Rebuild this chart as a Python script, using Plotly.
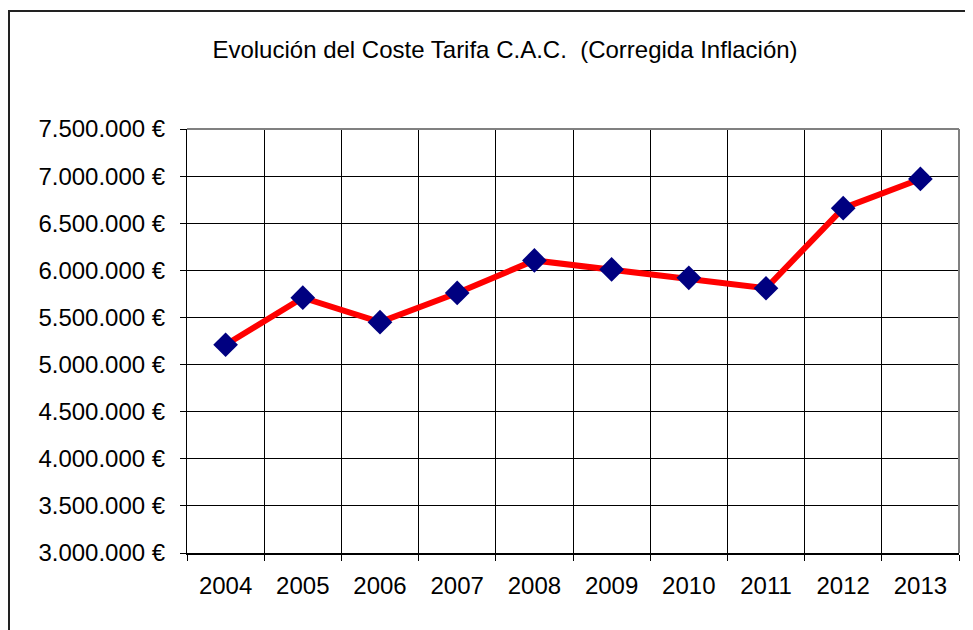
import plotly.graph_objects as go

# data
years = ["2004", "2005", "2006", "2007", "2008", "2009", "2010", "2011", "2012", "2013"]
coste = [5210000, 5710000, 5450000, 5760000, 6105000, 6010000, 5920000, 5810000, 6660000, 6970000]
y_ticks = [3000000 + 500000 * i for i in range(10)]
y_labels = ["{:,.0f} €".format(v).replace(",", ".") for v in y_ticks]

# page body has an 8px margin, so the figure is a bit smaller than the window
W, H = 965, 622
L, T = 179, 121
pw, ph = 772, 424
R, B = W - L - pw, H - T - ph

font = "Liberation Sans, Arial, sans-serif"

fig = go.Figure()
fig.add_trace(go.Scatter(
    x=years, y=coste, mode="lines+markers",
    line=dict(color="#FF0000", width=6),
    marker=dict(symbol="diamond", size=19, color="#000080", line=dict(width=0)),
    showlegend=False, hoverinfo="x+y",
))

fig.update_layout(
    width=W, height=H,
    margin=dict(l=L, r=R, t=T, b=B, pad=0, autoexpand=False),
    paper_bgcolor="white", plot_bgcolor="white",
    font=dict(family=font, size=24, color="black"),
    title=dict(text="Evolución del Coste Tarifa C.A.C.  (Corregida Inflación)",
               x=497 / W, xref="container", xanchor="center",
               y=1 - 42 / H, yref="container", yanchor="middle",
               font=dict(size=24, family=font, color="black")),
)

fig.update_xaxes(
    type="category", tickson="boundaries", automargin=False,
    showgrid=True, gridcolor="black", gridwidth=1,
    showline=True, linecolor="black", linewidth=2,
    ticks="outside", ticklen=6, tickcolor="black", tickwidth=1,
    ticklabelstandoff=10, zeroline=False,
    range=[-0.5, 9.5],
)
fig.update_yaxes(
    range=[3000000, 7500000], tickvals=y_ticks, ticktext=y_labels, automargin=False,
    showgrid=True, gridcolor="black", gridwidth=1,
    showline=True, linecolor="black", linewidth=1,
    ticks="outside", ticklen=6, tickcolor="black", tickwidth=1,
    ticklabelstandoff=10, zeroline=False,
)

# gray plot-area border on top and right
fig.add_shape(type="line", xref="x domain", yref="y domain", x0=0, x1=1, y0=1, y1=1,
              line=dict(color="#808080", width=2))
fig.add_shape(type="line", xref="x domain", yref="y domain", x0=1, x1=1, y0=0, y1=1,
              line=dict(color="#808080", width=2))

# outer chart border (top and left visible)
fig.add_shape(type="rect", xref="paper", yref="paper",
              x0=(1 - L) / pw, x1=1.5, y0=-0.5, y1=1 + (T - 3) / ph,
              line=dict(color="#222222", width=2), layer="below")

fig.write_html("out.html")
